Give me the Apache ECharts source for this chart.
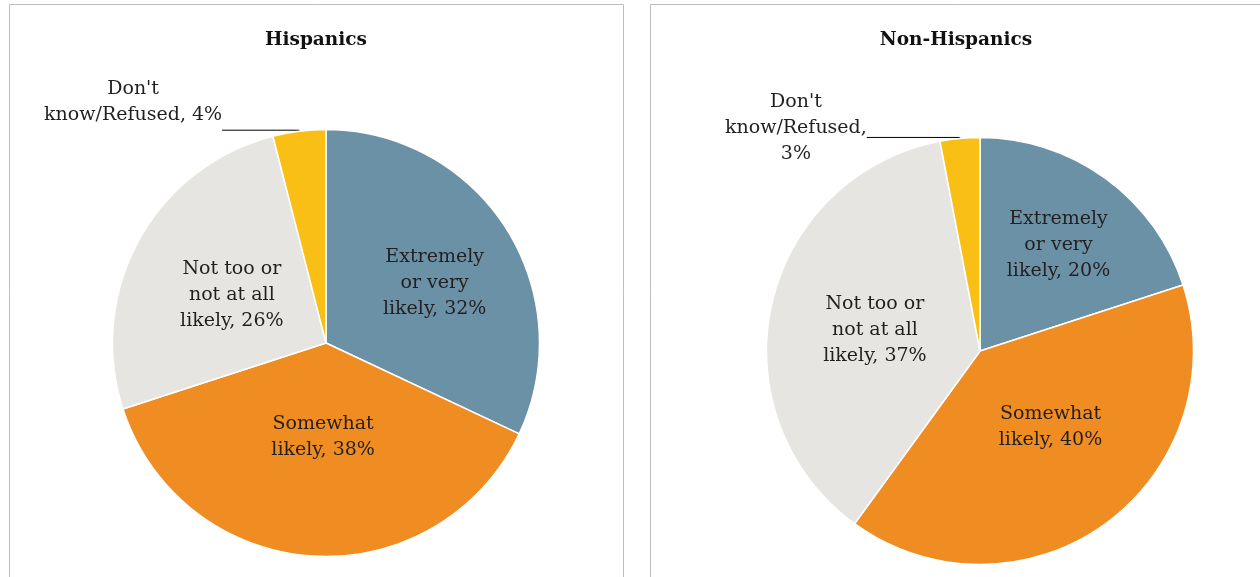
<!DOCTYPE html>
<html>
<head>
<meta charset="utf-8">
<style>
  html, body { margin: 0; padding: 0; background: #ffffff; }
  #chart { width: 1260px; height: 577px; }
</style>
<script src="https://cdn.jsdelivr.net/npm/echarts@6/dist/echarts.min.js"></script>
</head>
<body>
<div id="chart"></div>
<script>
// Likelihood categories, in clockwise order from 12 o'clock
const categories = [
  'Extremely\nor very\nlikely',
  'Somewhat\nlikely',
  'Not too or\nnot at all\nlikely',
  "Don't\nknow/Refused"
];
const hispanicValues = [32, 38, 26, 4];
const nonHispanicValues = [20, 40, 37, 3];
const panelTitles = ['Hispanics', 'Non-Hispanics'];

const sliceColors = ['#6b91a6', '#f08d22', '#e6e5e1', '#f9bf14'];

const FONT = 'DejaVu Serif';
const TEXT = '#231f20';

// Nudges for the in-slice labels, per panel and slice
const hispanicLabelStyle = [
  { offset: [16, -1] },
  { offset: [4, -15] },
  { offset: [2, 5] },
  { outside: true, padBottom: 56, length2: 77 }
];
const nonHispanicLabelStyle = [
  { offset: [14, -17] },
  { offset: [6, -13] },
  { offset: [2, 3] },
  { outside: true, padBottom: 18, length2: 93, breakAfterComma: true }
];

function labelText(name, value, style) {
  let text = name + ', ' + value + '%';
  if (style.breakAfterComma) text = name + ',\n' + value + '%';
  return text.split('\n').map(l => '{c|' + l + '}').join('\n');
}

function buildData(values, styles) {
  return values.map((v, i) => {
    const s = styles[i];
    const item = {
      name: categories[i],
      value: v,
      itemStyle: { color: sliceColors[i] },
      label: {
        formatter: labelText(categories[i], v, s),
        rich: { c: { align: 'center', fontFamily: FONT, fontSize: 19, lineHeight: 26, color: TEXT } }
      }
    };
    if (s.outside) {
      item.label.position = 'outside';
      item.label.distanceToLabelLine = 0;
      item.label.padding = [0, 0, s.padBottom, 0];
      item.labelLine = { show: true, length: 1, length2: s.length2, smooth: false,
        lineStyle: { color: '#000000', width: 1 } };
    } else {
      item.label.position = 'inside';
      item.label.offset = s.offset;
      item.labelLine = { show: false };
    }
    return item;
  });
}

function pieSeries(center, values, styles) {
  return {
    type: 'pie',
    center: center,
    radius: [0, 213.5],
    startAngle: 90,
    clockwise: true,
    animation: false,
    avoidLabelOverlap: false,
    emphasis: { disabled: true },
    itemStyle: { borderColor: '#ffffff', borderWidth: 1.5 },
    label: { show: true },
    data: buildData(values, styles)
  };
}

const titleStyle = { fontFamily: FONT, fontWeight: 'bold', fontSize: 18.5, color: '#111111' };

const chart = echarts.init(document.getElementById('chart'), null, { renderer: 'canvas' });
chart.setOption({
  backgroundColor: '#ffffff',
  title: [
    { text: panelTitles[0], left: 311, top: 26, textAlign: 'center', textStyle: titleStyle },
    { text: panelTitles[1], left: 951, top: 26, textAlign: 'center', textStyle: titleStyle }
  ],
  graphic: [
    { type: 'rect', shape: { x: 9.5, y: 4.5, width: 614, height: 640 },
      style: { fill: 'none', stroke: '#bdbdbd', lineWidth: 1 }, silent: true, z: -1 },
    { type: 'rect', shape: { x: 650.5, y: 4.5, width: 640, height: 640 },
      style: { fill: 'none', stroke: '#bdbdbd', lineWidth: 1 }, silent: true, z: -1 }
  ],
  series: [
    pieSeries([326, 343], hispanicValues, hispanicLabelStyle),
    pieSeries([980, 351], nonHispanicValues, nonHispanicLabelStyle)
  ]
});
</script>
</body>
</html>
